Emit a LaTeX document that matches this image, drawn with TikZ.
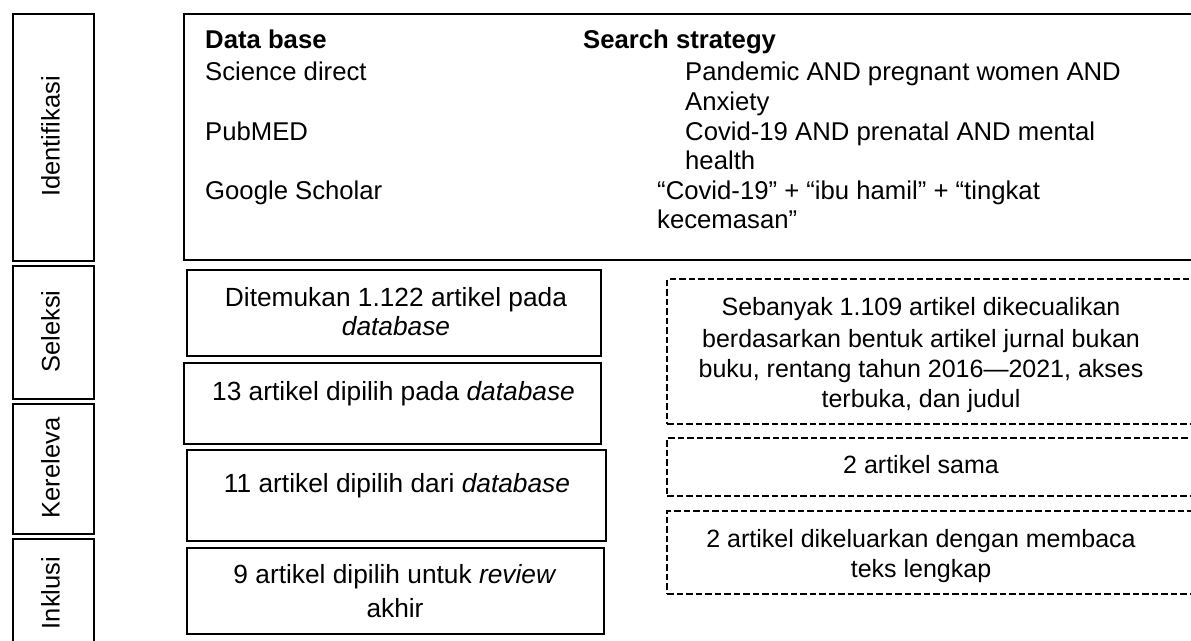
\documentclass[tikz,border=0pt]{standalone}
\usepackage{fontspec}
\setmainfont{Liberation Sans}
\tikzset{
  frame/.style={draw, line width=2.3pt, inner sep=0pt, anchor=north west},
  dbox/.style={draw, line width=2.3pt, dash pattern=on 6.5pt off 3pt, inner sep=0pt, anchor=north west},
  txt/.style={inner sep=0pt, anchor=base, font=\fontsize{25}{29.6}\selectfont},
  mtxt/.style={inner sep=0pt, anchor=base, font=\fontsize{26.3}{31}\selectfont},
  ltxt/.style={inner sep=0pt, anchor=base west, font=\fontsize{25.7}{29.6}\selectfont},
  btxt/.style={inner sep=0pt, anchor=base west, font=\fontsize{25.7}{29.6}\selectfont\bfseries},
  side/.style={inner sep=0pt, anchor=base, rotate=90, font=\fontsize{25.5}{30}\selectfont},
}
\begin{document}
\begin{tikzpicture}[x=1pt, y=-1pt]
\useasboundingbox (0,0) rectangle (1191,640);
\clip (0,0) rectangle (1191,640);
% left stage column
\node[frame, minimum width=81pt, minimum height=247pt] (sid) at (12,13) {};
\node[frame, minimum width=81pt, minimum height=133pt] (ssel) at (12,265) {};
\node[frame, minimum width=81pt, minimum height=130pt] (sker) at (12,403) {};
\node[frame, minimum width=81pt, minimum height=112pt] (sinc) at (12,538) {};
\node[side] (lid) at (59.5,136.5) {Identifikasi};
\node[side] (lsel) at (59.5,331.5) {Seleksi};
\node[side] (lker) at (59.5,468) {Kereleva};
\node[side] (linc) at (59.5,593) {Inklusi};
% top box
\node[frame, minimum width=1030pt, minimum height=246pt] (top) at (183,13) {};
\node[btxt] (tdb) at (205,48) {Data base};
\node[btxt] (tss) at (583,48) {Search strategy};
\node[ltxt] (tsd) at (205,80) {Science direct};
\node[ltxt] (tpm) at (205,140) {PubMED};
\node[ltxt] (tgs) at (205,199) {Google Scholar};
\node[ltxt] (q1a) at (685,80) {Pandemic AND pregnant women AND};
\node[ltxt] (q1b) at (685,110) {Anxiety};
\node[ltxt] (q2a) at (685,140) {Covid-19 AND prenatal AND mental};
\node[ltxt] (q2b) at (685,169) {health};
\node[ltxt] (q3a) at (657,199) {“Covid-19” + “ibu hamil” + “tingkat};
\node[ltxt] (q3b) at (657,228) {kecemasan”};
% middle solid boxes
\node[frame, minimum width=414pt, minimum height=86pt] (m1) at (186,269) {};
\node[mtxt] (m1a) at (396,306) {Ditemukan 1.122 artikel pada};
\node[mtxt] (m1b) at (396,335) {\itshape database};
\node[frame, minimum width=417pt, minimum height=81pt] (m2) at (183,362) {};
\node[mtxt] (m2a) at (393.5,400) {13 artikel dipilih pada \textit{database}};
\node[frame, minimum width=419pt, minimum height=91pt] (m3) at (186,449) {};
\node[mtxt] (m3a) at (397,492) {11 artikel dipilih dari \textit{database}};
\node[frame, minimum width=417pt, minimum height=86pt] (m4) at (186,547) {};
\node[mtxt] (m4a) at (395,583) {9 artikel dipilih untuk \textit{review}};
\node[mtxt] (m4b) at (395,617) {akhir};
% right dashed boxes
\node[dbox, minimum width=540pt, minimum height=145pt] (dA) at (666,278) {};
\node[txt] (dA1) at (921,315) {Sebanyak 1.109 artikel dikecualikan};
\node[txt] (dA2) at (921,347) {berdasarkan bentuk artikel jurnal bukan};
\node[txt] (dA3) at (921,377) {buku, rentang tahun 2016—2021, akses};
\node[txt] (dA4) at (921,407) {terbuka, dan judul};
\node[dbox, minimum width=540pt, minimum height=58pt] (dB) at (666,437) {};
\node[txt] (dB1) at (921,473) {2 artikel sama};
\node[dbox, minimum width=540pt, minimum height=83pt] (dC) at (666,510) {};
\node[txt] (dC1) at (921,547) {2 artikel dikeluarkan dengan membaca};
\node[txt] (dC2) at (921,577) {teks lengkap};
\end{tikzpicture}
\end{document}
